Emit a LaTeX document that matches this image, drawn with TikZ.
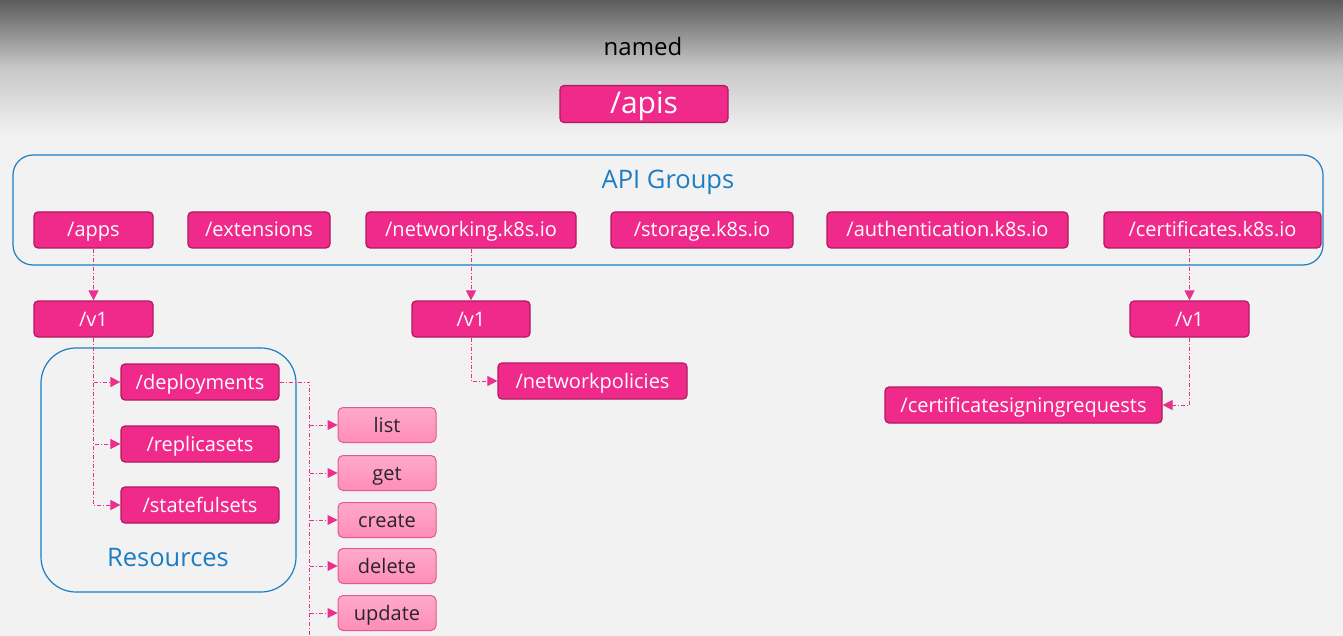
\documentclass[tikz,border=0pt]{standalone}
\usepackage{fontspec}
\setmainfont{Open Sans}
\usetikzlibrary{arrows.meta,calc}
\definecolor{pinkfill}{HTML}{EF2A8A}
\definecolor{pinkdraw}{HTML}{B3185F}
\definecolor{lpinktop}{HTML}{FFAACB}
\definecolor{lpinkbot}{HTML}{FF8DB6}
\definecolor{lpinkdraw}{HTML}{E2588F}
\definecolor{grpblue}{HTML}{1D7DC2}
\definecolor{connpink}{HTML}{EC2F8C}
\definecolor{bg}{HTML}{F2F2F2}
\tikzset{
  pbox/.style={draw=pinkdraw, line width=1.2pt, fill=pinkfill, rounded corners=4pt,
    text=white, font=\fontsize{20}{24}\selectfont, inner sep=0pt, minimum height=36pt,
    text height=16pt, text depth=2pt},
  vbox/.style={draw=lpinkdraw, line width=1pt, top color=lpinktop, bottom color=lpinkbot, rounded corners=5pt,
    text=black!85, font=\fontsize{20}{24}\selectfont, inner sep=0pt, minimum height=35pt, minimum width=98pt,
    text height=16pt, text depth=2pt},
  conn/.style={draw=connpink, line width=1pt, dash pattern=on 4pt off 2pt on 1pt off 2pt,
    -{Triangle[length=10pt,width=10pt,fill=connpink]}},
  connnoarrow/.style={draw=connpink, line width=1pt, dash pattern=on 4pt off 2pt on 1pt off 2pt},
  gframe/.style={draw=grpblue, line width=1.2pt},
  gtitle/.style={text=grpblue, font=\fontsize{25.5}{30}\selectfont},
}
\begin{document}
\begin{tikzpicture}[x=1pt,y=-1pt]
\useasboundingbox (0,0) rectangle (1343,636);
% background
\fill[bg] (0,0) rectangle (1343,636);
\shade[top color=black!64, bottom color=bg, middle color=black!22] (0,0) rectangle (1343,135);
% title
\node[font=\fontsize{24}{28}\selectfont, text=black] (named) at (643,47) {named};
\node[pbox, minimum width=168pt, minimum height=37pt, font=\fontsize{30}{34}\selectfont,
  text height=23pt, text depth=4pt] (apis) at (644,104) {/apis};
% API groups frame
\draw[gframe, rounded corners=20pt] (13,155) rectangle (1323,265);
\node[gtitle] (apigroups) at (668,182) {API Groups};
% groups
\node[pbox, minimum width=119pt] (apps) at (93.5,230) {/apps};
\node[pbox, minimum width=142pt] (ext) at (259,230) {/extensions};
\node[pbox, minimum width=210pt] (net) at (471,230) {/networking.k8s.io};
\node[pbox, minimum width=182pt] (stor) at (702,230) {/storage.k8s.io};
\node[pbox, minimum width=241pt] (auth) at (947.5,230) {/authentication.k8s.io};
\node[pbox, minimum width=217pt] (cert) at (1212.5,230) {/certificates.k8s.io};
% versions
\node[pbox, minimum width=119pt] (v1a) at (93.5,319) {/v1};
\node[pbox, minimum width=118pt] (v1b) at (471,319) {/v1};
\node[pbox, minimum width=119pt] (v1c) at (1189.5,319) {/v1};
% resources frame
\draw[gframe, rounded corners=35pt] (41,348) rectangle (296,592);
\node[gtitle] (reslabel) at (168,558) {Resources};
\node[pbox, minimum width=158pt] (dep) at (200,382) {/deployments};
\node[pbox, minimum width=158pt] (rs) at (200,444) {/replicasets};
\node[pbox, minimum width=158pt] (sts) at (200,505) {/statefulsets};
\node[pbox, minimum width=189pt] (np) at (592.5,381) {/networkpolicies};
\node[pbox, minimum width=277pt] (csr) at (1023.5,405) {/certificatesigningrequests};
% verbs
\node[vbox] (list) at (387,425) {list};
\node[vbox] (get) at (387,473) {get};
\node[vbox] (create) at (387,520) {create};
\node[vbox] (delete) at (387,566) {delete};
\node[vbox] (update) at (387,613) {update};
% connectors
\draw[conn] (apps.south) -- (v1a.north);
\draw[conn] (net.south) -- (v1b.north);
\draw[conn] (v1c.north |- cert.south) -- (v1c.north);
\draw[conn] (v1a.south) |- (dep.west);
\draw[conn] (v1a.south) |- (rs.west);
\draw[conn] (v1a.south) |- (sts.west);
\draw[conn] (v1b.south) |- (np.west);
\draw[conn] (v1c.south) |- (csr.east);
\coordinate (vb) at ($(dep.east)+(30,0)$);
\coordinate (vend) at (vb |- 0,636);
\draw[connnoarrow] (dep.east) -- (vb) -- (vend);
\foreach \v in {list,get,create,delete,update}{
  \draw[conn] (vb |- \v.west) -- (\v.west);
}
\end{tikzpicture}
\end{document}
